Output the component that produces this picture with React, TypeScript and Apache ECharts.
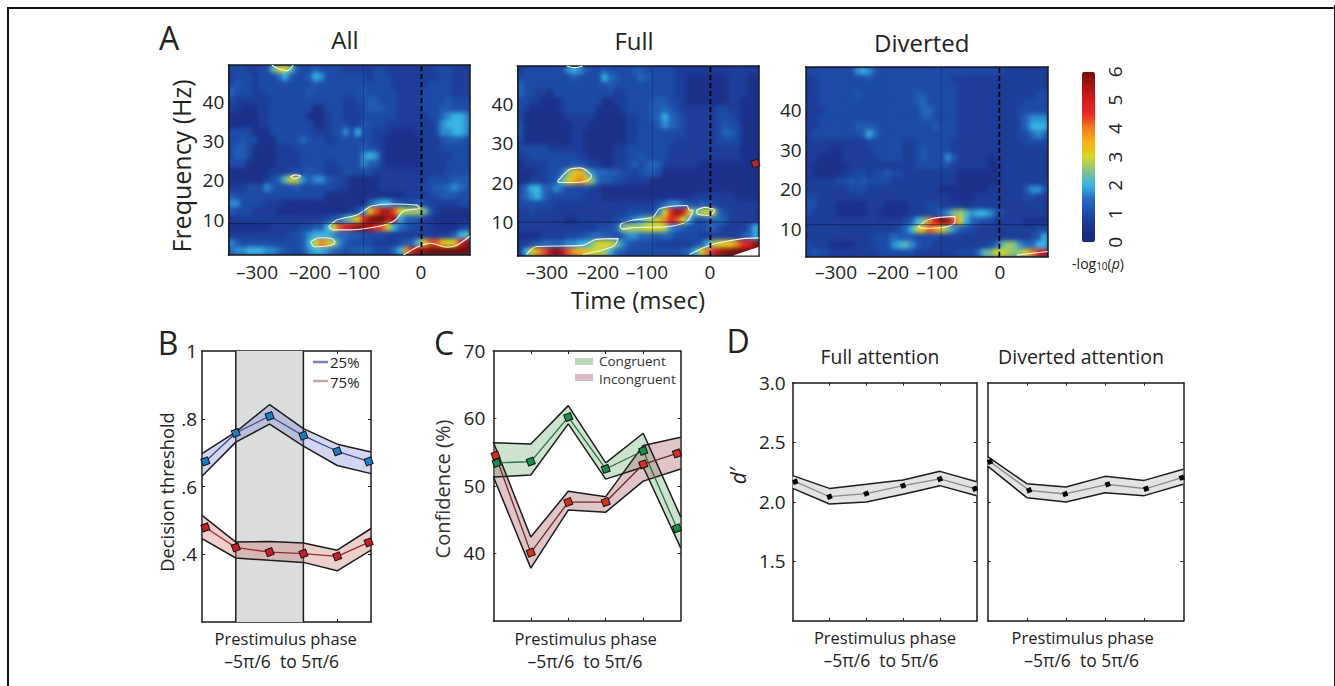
import React, { useEffect, useRef } from "react";
import * as echarts from "echarts";

const FONT = '"Open Sans"';
const INK = "#222222";

// heat maps: one character per cell, base-36 in quarter units of -log10(p), top row first
const heatAll = [
  "44433449cc 9544544443 3333443333 3333444333",
  "3444344468 5445874444 4443444333 3333344333",
  "4544344444 4444544444 4444444333 3334444333",
  "6444334444 4445444444 4454444433 3344444333",
  "4333333444 4444444443 3445544433 3344445444",
  "3322233444 4444224443 3345554433 3344455444",
  "2222233444 4442223443 3344444433 3334467887",
  "2222233444 4444223444 3354443333 3333478887",
  "4444222444 4444333447 4844333222 2333477887",
  "4454422244 4464443344 4444332222 2233345554",
  "4554222233 3444444444 4454432222 2233344444",
  "4554222233 3344444444 4478732222 2233333444",
  "4442222233 3344443344 4475532222 2233334444",
  "2222222333 4445443334 4444333333 3333334444",
  "2222223469 cb75775443 2222233333 3334444555",
  "3334447544 4544444433 2222233333 3344556765",
  "5444444444 4444442222 2222222223 3334455544",
  "7744443332 2222222222 2225788654 4543333344",
  "5444333322 2222222222 347dhlmhcb bba5322222",
  "3333333333 3333334568 adinooln86 5533222222",
  "2222222333 3344558chj lnnmihc865 4433222234",
  "3333333333 4457888766 5544443333 3333333589",
  "7544444444 4458cgeb75 4444333345 69dhhecdkn",
  "6778887765 4457887654 556544468f kmnooooooo",
];
const heatFull = [
  "3444444478 7544544445 5444443333 3333333333",
  "4444444445 4444865444 6544443322 2222233322",
  "6444444444 4444454444 4444443322 2222233322",
  "6443324444 4444443344 4444443322 2222233322",
  "4433222344 4444223344 4455544322 2222233222",
  "4322222344 4442222344 4455654333 3334433222",
  "4222222233 3332222233 4456865433 3334443222",
  "5222222223 3322222233 4445765433 3334544222",
  "5222222223 3222222233 4444444433 3334654222",
  "4222222223 3222222233 4444443333 3334444222",
  "4444433333 3222223344 4444433333 3333333222",
  "3344444444 3322223344 5444433333 3333333222",
  "2333344445 5433223345 4565333333 2222222222",
  "22233446ad ea76655443 4554222222 2222222222",
  "22333459ce gda6554433 3322222222 2222222222",
  "4688657644 4433222222 2222222222 2222222222",
  "4678644444 4333222222 2222222223 3333332222",
  "4444443333 3333333333 3334677654 5543333333",
  "3343333333 3333333344 4447cinkd9 bcb6433333",
  "3333333322 3333334567 8abdgjhc85 4566533333",
  "3333333333 3334446abb bcccb76544 4564333358",
  "2222333344 4566554577 6655654444 3333333568",
  "3345666677 88accca754 4443333334 58bcddgikn",
  "38cfhlnlhf edccb86544 4444444568 cgjmnooooo",
];
const heatDiverted = [
  "4444444478 7544444444 4444444444 4443333333",
  "3344444444 5444444444 4444333333 3333333333",
  "3344444444 4444444444 4444433333 3333333333",
  "3344444454 4444444455 4444433333 3333333344",
  "3344444444 4444444456 4444433333 3333334444",
  "3334444444 4444444446 6444433333 3333344444",
  "3344444444 4444444445 5444433333 3333346777",
  "3344444455 5544444444 4544433333 3333346888",
  "3444444445 8644444444 4444433333 3333344676",
  "3333333333 4444443344 4444333333 3333334444",
  "3333223333 3444443345 4444333333 3333333333",
  "3322223333 3344443345 4447533333 2333333333",
  "3222222333 3333333344 4444333333 2233333333",
  "3222223344 3445443333 3333322222 2233333333",
  "3333344545 4444333333 3333322222 2233333333",
  "3333333444 3333333333 3322222222 3333335775",
  "4433333333 3333333333 3333222233 3333334433",
  "5433322222 3332222333 4433332333 3333333333",
  "4333322222 3322222333 4467ab9788 7543333333",
  "3333333333 333333458a gknmhc8654 4333332222",
  "3333333333 33333468ce hfca754433 3333333344",
  "3333333333 3444655544 4433333333 3333333458",
  "4333222233 3444789754 4333333333 469ba76688",
  "4544333333 3344444433 3333344469 accbabdgjl",
];

// colour scale, 0 to 6 in steps of 0.5
const jetColors = [
  "#18287c", "#1b3189", "#1e4ba8", "#2468bc", "#38b4e4", "#82c28a", "#d4d828",
  "#f6b414", "#f0801e", "#e82a24", "#d81c20", "#a81612", "#701008",
];

// white significance contours [msec, Hz]
const contoursAll: number[][][] = [
  [[-160, 8.2], [-146, 9.9], [-111, 11.2], [-97, 12.5], [-86, 13.5], [-54, 14], [-8, 13.7], [-3, 12.9], [-31, 12.2], [-45, 9.9], [-65, 8.6], [-94, 7.8], [-123, 7.4], [-152, 7.4], [-160, 8.2]],
  [[-191, 4.4], [-175, 5.4], [-155, 5.2], [-149, 4.2], [-163, 3.3], [-184, 3.1], [-191, 4.4]],
  [[-258, 49.4], [-247, 48.5], [-232, 47.9], [-221, 49.4]],
  [[-226, 21], [-218, 21.4], [-208, 21.1], [-218, 20.5], [-226, 21]],
  [[-31, 1], [-8, 3], [15, 4], [44, 3], [61, 3.5], [83, 5.7]],
];
const contoursFull: number[][][] = [
  [[-263, 20.4], [-243, 23.3], [-225, 23.7], [-205, 21.6], [-214, 20.4], [-243, 20], [-263, 20.1], [-263, 20.4]],
  [[-153, 9.7], [-133, 10.5], [-99, 11.3], [-87, 13.4], [-41, 14.2], [-36, 13], [-30, 13], [-41, 10.1], [-76, 8.8], [-133, 8.6], [-151, 8.2], [-156, 9], [-153, 9.7]],
  [[-24, 13], [-10, 13.7], [7.5, 13], [-1, 11.7], [-21, 11.9], [-24, 13]],
  [[-317, 1.8], [-300, 3.8], [-220, 4.1], [-197, 5.6], [-159, 5.8], [-168, 3.8], [-220, 1.8]],
  [[-248, 49.5], [-234, 49.1], [-220, 49.5]],
  [[-36, 1.8], [-7, 3.8], [16, 4.8], [56, 5.8], [83, 6]],
];
const contoursDiverted: number[][][] = [
  [[-140, 10.5], [-120, 12.4], [-76, 13.1], [-76, 11.6], [-91, 10.5], [-131, 10.1], [-140, 10.5]],
  [[30, 3.3], [83, 4.2]],
];
const strayMarker = [[77.6, 24.8]];

// panel A tick labels
const timeLabels = ["–300", "–200", "–100", "0"];
const freqTicks = [10, 20, 30, 40];

// panel B
const bandX = [1, 2, 3, 4, 5, 6];
const bPointX = [1.1, 2, 3, 4, 5, 5.93];
const blueUpper = [0.697, 0.761, 0.842, 0.771, 0.725, 0.702];
const blueLower = [0.63, 0.731, 0.784, 0.719, 0.662, 0.638];
const blueMean = [0.674, 0.758, 0.808, 0.75, 0.704, 0.674];
const redUpper = [0.515, 0.436, 0.438, 0.433, 0.412, 0.476];
const redLower = [0.446, 0.389, 0.382, 0.376, 0.351, 0.412];
const redMean = [0.479, 0.42, 0.406, 0.402, 0.394, 0.435];

// panel C
const cGreenX = [1.09, 2, 3, 4, 5, 5.9];
const cRedX = [1.06, 2, 3, 4, 5, 5.9];
const congUpper = [56.4, 56.2, 61.9, 53.4, 57.8, 45.4];
const congLower = [51.3, 51.6, 59.2, 51, 52.8, 40.8];
const congMean = [53.4, 53.6, 60.2, 52.5, 55.2, 43.7];
const incUpper = [56.5, 42.4, 49.2, 48.4, 56, 57.2];
const incLower = [51.4, 37.8, 46.4, 46.1, 50.7, 52.5];
const incMean = [54.5, 40.1, 47.6, 47.6, 53.2, 54.8];

// panel D
const dFullX = [1.07, 2, 3, 4, 5, 5.95];
const dFullUpper = [2.22, 2.113, 2.147, 2.183, 2.256, 2.169];
const dFullLower = [2.113, 1.982, 1.999, 2.063, 2.136, 2.052];
const dFullMean = [2.169, 2.043, 2.069, 2.136, 2.192, 2.11];
const dDivX = [1.06, 2.06, 2.98, 4.07, 5.05, 5.96];
const dDivUpper = [2.379, 2.152, 2.124, 2.214, 2.18, 2.273];
const dDivLower = [2.3, 2.035, 1.999, 2.077, 2.052, 2.147];
const dDivMean = [2.337, 2.097, 2.066, 2.147, 2.11, 2.203];

const heatRects = [
  { left: 228.3, top: 65, width: 241.7, height: 190 },
  { left: 517.3, top: 66, width: 241.7, height: 190 },
  { left: 805.7, top: 66.7, width: 242.3, height: 190 },
];

const decode = (rows: string[]) => {
  const data: number[][] = [];
  rows.forEach((row, r) => {
    row.replace(/ /g, "").split("").forEach((c, col) => {
      data.push([col, r, parseInt(c, 36) / 4]);
    });
  });
  return data;
};

const heatOption = (rows: string[]) => {
  const cols = rows[0].replace(/ /g, "").split("").map((_, i) => i);
  return {
    animation: false,
    grid: { left: 0, right: 0, top: 0, bottom: 0 },
    xAxis: { type: "category", data: cols, show: false },
    yAxis: { type: "category", data: rows.map((_, i) => i), inverse: true, show: false },
    visualMap: { show: false, min: 0, max: 6, inRange: { color: jetColors } },
    series: [{ type: "heatmap", data: decode(rows), itemStyle: { borderWidth: 0 } }],
  };
};

const txt = (text: string, x: number, y: number, size: number, extra: any = {}) => ({
  type: "text",
  x,
  y,
  rotation: extra.rotation || 0,
  z: 50,
  style: {
    text,
    fill: extra.fill || INK,
    font: `${extra.italic ? "italic " : ""}${size}px ${FONT}`,
    align: extra.align || "center",
    verticalAlign: "middle",
  },
});

function buildMain() {
  const grids: any[] = [];
  const xAxes: any[] = [];
  const yAxes: any[] = [];
  const series: any[] = [];

  const line = { lineStyle: { color: "#1a1a1a", width: 1.5 } };

  const addPlot = (g: any, x: any, y: any, opts: any) => {
    const gi = grids.length;
    grids.push({ left: g.left, top: g.top, width: g.width, height: g.height, containLabel: false });
    const bx = xAxes.length;
    const tickX = opts.xTicks
      ? { show: true, inside: true, length: 3, customValues: opts.xTicks, lineStyle: { color: "#1a1a1a", width: 1 } }
      : { show: false };
    xAxes.push({ type: "value", gridIndex: gi, position: "bottom", min: x[0], max: x[1], axisLine: { show: true, onZero: false, ...line }, axisTick: tickX, axisLabel: { show: false }, splitLine: { show: false } });
    xAxes.push({ type: "value", gridIndex: gi, position: "top", min: x[0], max: x[1], axisLine: { show: true, onZero: false, ...line }, axisTick: tickX, axisLabel: { show: false }, splitLine: { show: false } });
    const ly = yAxes.length;
    const tickY = opts.yTickMarks
      ? { show: true, inside: true, length: 3, customValues: opts.yTickMarks, lineStyle: { color: "#1a1a1a", width: 1 } }
      : { show: false };
    yAxes.push({
      type: "value", gridIndex: gi, position: "left", min: y[0], max: y[1],
      axisLine: { show: true, onZero: false, ...line }, axisTick: tickY,
      axisLabel: { show: true, customValues: opts.yLabels, formatter: opts.yFormat, margin: opts.margin, fontFamily: FONT, fontSize: opts.fontSize, color: INK, padding: [opts.labelDrop || 0, 0, 0, 0] },
      splitLine: { show: false },
    });
    yAxes.push({ type: "value", gridIndex: gi, position: "right", min: y[0], max: y[1], axisLine: { show: true, onZero: false, ...line }, axisTick: tickY, axisLabel: { show: false }, splitLine: { show: false } });
    return { xAxisIndex: bx, yAxisIndex: ly };
  };

  const addBand = (ax: any, xs: number[], up: number[], low: number[], fill: string, z = 3) => {
    series.push({
      type: "custom", ...ax, z, clip: true, silent: true,
      data: xs.map((x, i) => [x, up[i], low[i]]),
      encode: { x: 0, y: [1, 2] },
      renderItem: (p: any, api: any) => {
        if (p.dataIndex !== 0) return null;
        const top = xs.map((x, i) => api.coord([x, up[i]]));
        const bottom = xs.map((x, i) => api.coord([x, low[i]])).reverse();
        return { type: "polygon", shape: { points: top.concat(bottom) }, style: { fill } };
      },
    });
    [up, low].forEach((vals) => {
      series.push({
        type: "line", ...ax, z: z + 1, symbol: "none", silent: true,
        data: xs.map((x, i) => [x, vals[i]]),
        lineStyle: { color: "#1c1c1c", width: 1.5 },
      });
    });
  };

  const addMean = (ax: any, xs: number[], vals: number[], lineColor: string, dot: string, size = 7, border = 1) => {
    series.push({
      type: "line", ...ax, z: 8, clip: false, silent: true, symbol: "rect", symbolRotate: 20, symbolSize: size,
      data: xs.map((x, i) => [x, vals[i]]),
      lineStyle: { color: lineColor, width: 1.3 },
      itemStyle: { color: dot, borderColor: "#111", borderWidth: border },
    });
  };

  // panel A
  const timeRange = [-333, 83.7];
  const yRanges = [[1, 49.4], [1.4, 49.5], [2.9, 51]];
  const yCrosses = [9, 10, 11];
  const allContours = [contoursAll, contoursFull, contoursDiverted];
  const tAxes: any[] = [];
  heatRects.forEach((r, i) => {
    const ax = addPlot(r, timeRange, yRanges[i], {
      yLabels: freqTicks, margin: 4, fontSize: 19, labelDrop: i === 2 ? 8 : 0,
    });
    tAxes.push(ax);
    allContours[i].forEach((c) => {
      series.push({ type: "line", ...ax, z: 5, symbol: "none", silent: true, smooth: 0.3, data: c, lineStyle: { color: "#f4f4ee", width: 1.1 } });
    });
    series.push({ type: "line", ...ax, z: 6, symbol: "none", silent: true, data: [[-100, yRanges[i][0]], [-100, yRanges[i][1]]], lineStyle: { color: "#10204f", width: 0.7, opacity: 0.6 } });
    series.push({ type: "line", ...ax, z: 6, symbol: "none", silent: true, data: [[timeRange[0], yCrosses[i]], [timeRange[1], yCrosses[i]]], lineStyle: { color: "#0c1640", width: 0.8, opacity: 0.8 } });
    series.push({ type: "line", ...ax, z: 7, symbol: "none", silent: true, data: [[0, yRanges[i][0]], [0, yRanges[i][1]]], lineStyle: { color: "#000", width: 1.8, type: [5, 3] } });
  });
  series.push({
    type: "scatter", ...tAxes[1], z: 9, clip: false, silent: true, symbol: "rect", symbolRotate: 20, symbolSize: 7,
    data: strayMarker, itemStyle: { color: "#d0242c", borderColor: "#111", borderWidth: 1 },
  });

  // colour bar scale
  const barGrid = grids.length;
  grids.push({ left: 1082, top: 71.7, width: 13, height: 170.6 });
  const barX = xAxes.length;
  xAxes.push({ type: "value", gridIndex: barGrid, min: 0, max: 1, show: false });
  const barY = yAxes.length;
  yAxes.push({
    type: "value", gridIndex: barGrid, position: "right", min: 0, max: 6, interval: 1,
    axisLine: { show: false }, axisTick: { show: false }, splitLine: { show: false },
    axisLabel: { show: true, rotate: 90, margin: 10, fontFamily: FONT, fontSize: 19, color: INK },
  });
  const barSeries = series.length;
  series.push({ type: "scatter", xAxisIndex: barX, yAxisIndex: barY, data: [], silent: true });

  // panel B
  const bAx = addPlot({ left: 202, top: 351, width: 169, height: 271 }, [1, 6], [0.2, 1], {
    xTicks: [2, 3, 4, 5], yTickMarks: [0.4, 0.6, 0.8], yLabels: [0.4, 0.6, 0.8, 1],
    yFormat: (v: number) => (v >= 1 ? "1" : "." + Math.round(v * 10)), margin: 5, fontSize: 19, labelDrop: 6,
  });
  series.push({
    type: "line", ...bAx, z: 2, symbol: "none", silent: true, data: [[2, 0.2], [2, 1]],
    lineStyle: { color: "#1c1c1c", width: 1.5 },
    markArea: { silent: true, itemStyle: { color: "#dbdddd" }, data: [[{ xAxis: 2, yAxis: 0.2 }, { xAxis: 4, yAxis: 1 }]] },
  });
  series.push({ type: "line", ...bAx, z: 2, symbol: "none", silent: true, data: [[4, 0.2], [4, 1]], lineStyle: { color: "#1c1c1c", width: 1.5 } });
  addBand(bAx, bandX, blueUpper, blueLower, "rgba(110,120,205,0.30)");
  addBand(bAx, bandX, redUpper, redLower, "rgba(200,110,100,0.33)");
  addMean(bAx, bPointX, blueMean, "#3a4690", "#1f7cc0");
  addMean(bAx, bPointX, redMean, "#9c2a2a", "#c81e2a");

  // panel C
  const cAx = addPlot({ left: 493.3, top: 351, width: 187.4, height: 269.7 }, [1, 6], [30, 70], {
    xTicks: [2, 3, 4, 5], yTickMarks: [40, 50, 60], yLabels: [40, 50, 60, 70], margin: 8, fontSize: 19, labelDrop: 6,
  });
  addBand(cAx, bandX, congUpper, congLower, "rgba(115,180,120,0.36)");
  addBand(cAx, bandX, incUpper, incLower, "rgba(160,85,95,0.34)");
  addMean(cAx, cGreenX, congMean, "#2d6b4a", "#1c8a48");
  addMean(cAx, cRedX, incMean, "#702828", "#d8301f");

  // panel D
  const dLeft = addPlot({ left: 792.7, top: 382.7, width: 184, height: 238.3 }, [1, 6], [1, 3], {
    xTicks: [2, 3, 4, 5], yTickMarks: [1.5, 2, 2.5], yLabels: [1.5, 2, 2.5, 3],
    yFormat: (v: number) => v.toFixed(1), margin: 7, fontSize: 19, labelDrop: 4,
  });
  addBand(dLeft, bandX, dFullUpper, dFullLower, "#e3e3e3");
  addMean(dLeft, dFullX, dFullMean, "#8a8a8a", "#000", 5, 0);
  const dRight = addPlot({ left: 987.7, top: 382.7, width: 195.6, height: 238.3 }, [1, 6], [1, 3], {
    xTicks: [2, 3, 4, 5], yTickMarks: [1.5, 2, 2.5], yLabels: [], margin: 7, fontSize: 19,
  });
  addBand(dRight, bandX, dDivUpper, dDivLower, "#e3e3e3");
  addMean(dRight, dDivX, dDivMean, "#8a8a8a", "#000", 5, 0);

  const R = Math.PI / 2;
  const timeLabelX = [
    [257, 310, 359, 421],
    [547, 598, 647, 710],
    [836, 888, 937, 1000],
  ];
  const graphic: any[] = [
    { type: "polyline", z: 40, shape: { points: [[8, 686], [8, 8], [1334, 8]] }, style: { stroke: "#111", lineWidth: 2, fill: "none" } },
    { type: "line", z: 40, shape: { x1: 1334.5, y1: 5, x2: 1334.5, y2: 686 }, style: { stroke: "#111", lineWidth: 1 } },
    { type: "polygon", z: 30, shape: { points: [[733, 255.4], [758.4, 247], [758.4, 255.4]] }, style: { fill: "#fff" } },
    txt("A", 169, 37, 32), txt("B", 168, 342, 32), txt("C", 444, 342, 32), txt("D", 738, 340, 32),
    txt("All", 345, 39, 24), txt("Full", 634, 40, 24), txt("Diverted", 921.7, 42, 24),
    txt("Frequency (Hz)", 180.7, 166, 25, { rotation: R }),
    txt("Time (msec)", 638, 299, 24),
    {
      type: "text", z: 50, x: 1098, y: 263,
      style: {
        text: "{a|-log}{s|10}{a|(}{i|p}{a|)}", align: "center", verticalAlign: "middle",
        rich: {
          a: { font: `14px ${FONT}`, fill: INK },
          i: { font: `italic 14px ${FONT}`, fill: INK },
          s: { font: `10px ${FONT}`, fill: INK, padding: [6, 0, 0, 0] },
        },
      },
    },
    txt("Decision threshold", 166.7, 492, 18.3, { rotation: R }),
    txt("Confidence (%)", 442, 489, 20, { rotation: R, fill: "#333" }),
    txt("d′", 738, 476, 21, { rotation: R, italic: true }),
    txt("Full attention", 880, 356, 19.3), txt("Diverted attention", 1081, 356, 19.5),
    txt("Prestimulus phase", 285.7, 638, 16.5), txt("–5π/6  to 5π/6", 281.7, 661, 17.5),
    txt("Prestimulus phase", 585.7, 638, 16.5), txt("–5π/6  to 5π/6", 585, 661, 17.5),
    txt("Prestimulus phase", 885, 637, 16.5), txt("–5π/6  to 5π/6", 881, 660, 17.5),
    txt("Prestimulus phase", 1082.7, 637, 16.5), txt("–5π/6  to 5π/6", 1081.7, 660, 17.5),
    { type: "line", z: 40, shape: { x1: 313, y1: 362, x2: 328, y2: 362 }, style: { stroke: "#7b80b8", lineWidth: 2.5 } },
    { type: "line", z: 40, shape: { x1: 313, y1: 381, x2: 328, y2: 381 }, style: { stroke: "#c8a4a4", lineWidth: 2.5 } },
    txt("25%", 330, 361.5, 15, { align: "left" }), txt("75%", 330, 381.5, 15, { align: "left" }),
    { type: "rect", z: 40, shape: { x: 575, y: 358, width: 18, height: 7 }, style: { fill: "#bcd8bc" } },
    { type: "rect", z: 40, shape: { x: 575, y: 374, width: 18, height: 7 }, style: { fill: "#dcbcc2" } },
    txt("Congruent", 599, 361, 13.5, { align: "left", fill: "#333" }),
    txt("Incongruent", 599, 378.5, 13.5, { align: "left", fill: "#333" }),
  ];
  timeLabelX.forEach((xs) => xs.forEach((x, i) => graphic.push(txt(timeLabels[i], x, 272, 19))));

  return {
    animation: false,
    backgroundColor: "transparent",
    grid: grids,
    xAxis: xAxes,
    yAxis: yAxes,
    series,
    graphic,
    visualMap: {
      type: "continuous", show: true, seriesIndex: barSeries, min: 0, max: 6, left: 1082, top: 71.7,
      itemWidth: 13, itemHeight: 170.6, padding: 0, calculable: false, text: [], showLabel: false,
      textStyle: { fontSize: 0 }, inRange: { color: jetColors },
    },
  };
}

export default function App() {
  const mainRef = useRef<HTMLDivElement>(null);
  const h1 = useRef<HTMLDivElement>(null);
  const h2 = useRef<HTMLDivElement>(null);
  const h3 = useRef<HTMLDivElement>(null);

  useEffect(() => {
    const charts: any[] = [];
    const heatSources = [heatAll, heatFull, heatDiverted];
    [h1, h2, h3].forEach((r, i) => {
      const c = echarts.init(r.current!, undefined, { renderer: "svg" });
      c.setOption(heatOption(heatSources[i]));
      charts.push(c);
    });
    const m = echarts.init(mainRef.current!, undefined, { renderer: "svg" });
    m.setOption(buildMain());
    charts.push(m);
    return () => charts.forEach((c) => c.dispose());
  }, []);

  const refs = [h1, h2, h3];
  return (
    <div style={{ position: "absolute", left: 0, top: 0, width: 1335, height: 686, background: "#fff", overflow: "hidden" }}>
      {heatRects.map((r, i) => (
        <div key={i} style={{ position: "absolute", left: r.left, top: r.top, width: r.width, height: r.height, overflow: "hidden", background: "#1b3189" }}>
          <div ref={refs[i]} style={{ width: r.width, height: r.height, filter: "blur(2.3px)" }} />
        </div>
      ))}
      <div ref={mainRef} style={{ position: "absolute", left: 0, top: 0, width: 1335, height: 686 }} />
    </div>
  );
}
